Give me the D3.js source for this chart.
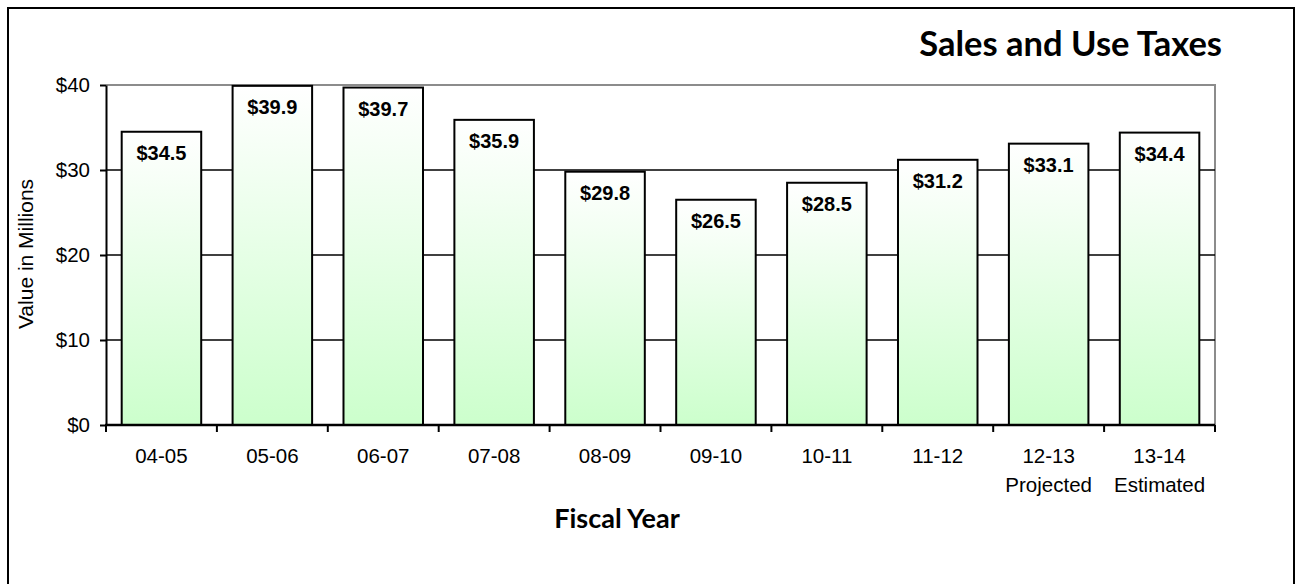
<!DOCTYPE html>
<html>
<head>
<meta charset="utf-8">
<script src="https://cdn.jsdelivr.net/npm/d3@7"></script>
<style>
  html, body { margin: 0; padding: 0; background: #fff; }
  svg { display: block; }
</style>
</head>
<body>
<svg id="chart" width="1296" height="584"></svg>
<script>
// Sales and use tax revenue by fiscal year (in millions of dollars)
const categories = ["04-05", "05-06", "06-07", "07-08", "08-09", "09-10", "10-11", "11-12", "12-13", "13-14"];
const subLabels  = ["", "", "", "", "", "", "", "", "Projected", "Estimated"];
const values     = [34.5, 39.9, 39.7, 35.9, 29.8, 26.5, 28.5, 31.2, 33.1, 34.4];
const yTicks     = [0, 10, 20, 30, 40];

const svg = d3.select("#chart");
const plot = { left: 106, right: 1215, top: 85, bottom: 425 };
const armFont = "'Liberation Sans', Arial, sans-serif";
const titleFont = "Lato, 'Open Sans', sans-serif";

// outer frame
svg.append("rect")
  .attr("x", 8).attr("y", 8)
  .attr("width", 1286).attr("height", 600)
  .attr("fill", "#fff").attr("stroke", "#000").attr("stroke-width", 2);

const x = d3.scaleBand()
  .domain(categories)
  .range([plot.left, plot.right])
  .paddingInner(0.283)
  .paddingOuter(0.1415);

const y = d3.scaleLinear()
  .domain([0, 40])
  .range([plot.bottom, plot.top]);

// bar fill: white at the top fading to pale green at the base
const defs = svg.append("defs");
const grad = defs.append("linearGradient")
  .attr("id", "barFill")
  .attr("x1", 0).attr("y1", 0).attr("x2", 0).attr("y2", 1);
grad.append("stop").attr("offset", "0%").attr("stop-color", "#ffffff");
grad.append("stop").attr("offset", "100%").attr("stop-color", "#ccffcc");

// plot frame (grey top and right edges)
svg.append("path")
  .attr("d", `M${plot.left},${plot.top}H${plot.right}V${plot.bottom}`)
  .attr("fill", "none").attr("stroke", "#8c8c8c").attr("stroke-width", 2);

// horizontal gridlines
svg.append("g")
  .selectAll("line")
  .data(yTicks.filter(d => d > 0 && d < 40))
  .join("line")
  .attr("x1", plot.left).attr("x2", plot.right)
  .attr("y1", d => y(d)).attr("y2", d => y(d))
  .attr("stroke", "#000").attr("stroke-width", 1.5);

// bars
svg.append("g")
  .selectAll("rect")
  .data(values)
  .join("rect")
  .attr("x", (d, i) => x(categories[i]))
  .attr("y", d => y(d))
  .attr("width", x.bandwidth())
  .attr("height", d => y(0) - y(d))
  .attr("fill", "url(#barFill)")
  .attr("stroke", "#000").attr("stroke-width", 2);

// value labels inside the top of each bar
svg.append("g")
  .selectAll("text")
  .data(values)
  .join("text")
  .attr("x", (d, i) => x(categories[i]) + x.bandwidth() / 2)
  .attr("y", d => y(d) + 28)
  .attr("text-anchor", "middle")
  .attr("font-family", armFont)
  .attr("font-weight", "bold")
  .attr("font-size", 20)
  .text(d => "$" + d.toFixed(1));

// y axis
const yAxis = svg.append("g")
  .attr("transform", `translate(${plot.left},0)`)
  .call(d3.axisLeft(y).tickValues(yTicks).tickFormat(d => "$" + d).tickSize(6).tickSizeOuter(0).tickPadding(10));
yAxis.select(".domain").attr("stroke", "#000").attr("stroke-width", 2);
yAxis.selectAll(".tick line").attr("stroke", "#000").attr("stroke-width", 2);
yAxis.selectAll(".tick text")
  .attr("font-family", armFont).attr("font-size", 20.5).attr("fill", "#000");

// x axis baseline and category boundary ticks
svg.append("line")
  .attr("x1", plot.left - 1).attr("x2", plot.right)
  .attr("y1", y(0)).attr("y2", y(0))
  .attr("stroke", "#000").attr("stroke-width", 2.5);
const boundaries = d3.range(categories.length + 1).map(i => plot.left + i * x.step());
svg.append("g")
  .selectAll("line")
  .data(boundaries)
  .join("line")
  .attr("x1", d => d).attr("x2", d => d)
  .attr("y1", y(0)).attr("y2", y(0) + 7)
  .attr("stroke", "#000").attr("stroke-width", 2);

// category labels (with a second line where present)
const catLabels = svg.append("g")
  .selectAll("text")
  .data(categories)
  .join("text")
  .attr("x", d => x(d) + x.bandwidth() / 2)
  .attr("y", 463)
  .attr("text-anchor", "middle")
  .attr("font-family", armFont)
  .attr("font-size", 20.5);
catLabels.append("tspan").text(d => d);
catLabels.append("tspan")
  .attr("x", d => x(d) + x.bandwidth() / 2)
  .attr("dy", 29)
  .text((d, i) => subLabels[i]);

// axis titles
svg.append("text")
  .attr("transform", "translate(33,254) rotate(-90)")
  .attr("text-anchor", "middle")
  .attr("font-family", armFont)
  .attr("font-size", 21)
  .text("Value in Millions");

svg.append("text")
  .attr("x", 617).attr("y", 528)
  .attr("text-anchor", "middle")
  .attr("font-family", titleFont)
  .attr("font-weight", "bold")
  .attr("font-size", 27)
  .text("Fiscal Year");

// chart title
svg.append("text")
  .attr("x", 1222).attr("y", 56)
  .attr("text-anchor", "end")
  .attr("font-family", titleFont)
  .attr("font-weight", "bold")
  .attr("font-size", 34.5)
  .text("Sales and Use Taxes");
</script>
</body>
</html>
